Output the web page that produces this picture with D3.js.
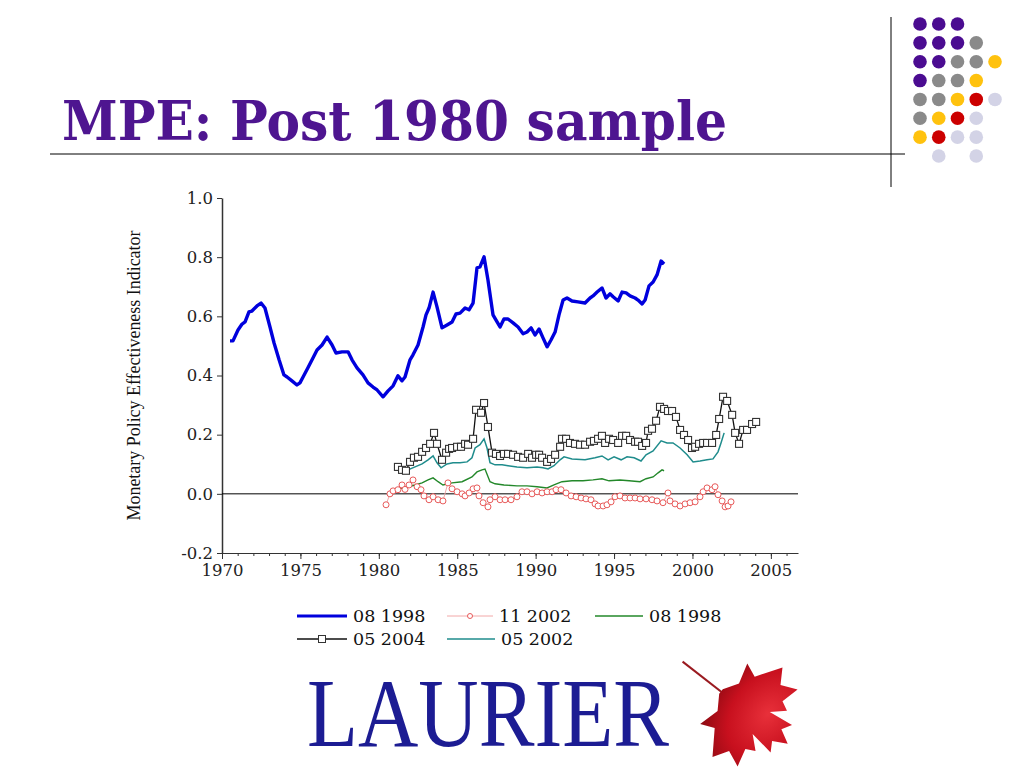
<!DOCTYPE html>
<html>
<head>
<meta charset="utf-8">
<script src="https://cdn.jsdelivr.net/npm/d3@7"></script>
<style>
  html, body { margin: 0; padding: 0; background: #ffffff; }
  svg { display: block; }
</style>
</head>
<body>
<svg id="chart" width="1024" height="768"></svg>
<script>
// ---------------- DATA ----------------
const titleText = "MPE: Post 1980 sample";
const yAxisTitle = "Monetary Policy Effectiveness Indicator";
const yTickValues = [-0.2, 0.0, 0.2, 0.4, 0.6, 0.8, 1.0];
const xTickValues = [1970, 1975, 1980, 1985, 1990, 1995, 2000, 2005];
const xDomain = [1970, 2006.73];
const yDomain = [-0.2, 1.0];

// series "08 1998" (blue, thick)
const blue081998 = [
  [1970.51,0.517],[1970.70,0.517],[1971.02,0.554],[1971.28,0.574],[1971.47,0.581],[1971.72,0.615],
  [1971.91,0.618],[1972.23,0.635],[1972.49,0.645],[1972.74,0.628],[1973.06,0.564],[1973.32,0.510],
  [1973.64,0.453],[1973.95,0.402],[1974.15,0.395],[1974.46,0.382],[1974.78,0.368],[1974.97,0.375],
  [1975.17,0.395],[1975.48,0.426],[1975.80,0.459],[1976.06,0.486],[1976.38,0.503],[1976.70,0.530],
  [1977.02,0.503],[1977.27,0.476],[1977.65,0.480],[1978.04,0.480],[1978.29,0.453],[1978.61,0.426],
  [1978.99,0.402],[1979.31,0.375],[1979.63,0.361],[1979.89,0.351],[1980.27,0.328],[1980.59,0.348],
  [1980.91,0.365],[1981.22,0.399],[1981.48,0.382],[1981.67,0.395],[1981.99,0.453],[1982.18,0.470],
  [1982.50,0.503],[1982.82,0.564],[1983.01,0.605],[1983.20,0.628],[1983.46,0.682],[1983.71,0.632],
  [1984.03,0.561],[1984.35,0.571],[1984.67,0.581],[1984.92,0.608],[1985.18,0.611],[1985.50,0.628],
  [1985.75,0.622],[1986.01,0.645],[1986.26,0.764],[1986.45,0.767],[1986.71,0.801],[1986.96,0.723],
  [1987.28,0.605],[1987.54,0.581],[1987.73,0.564],[1987.98,0.591],[1988.24,0.591],[1988.56,0.578],
  [1988.88,0.564],[1989.20,0.541],[1989.45,0.547],[1989.71,0.561],[1989.96,0.537],[1990.22,0.557],
  [1990.47,0.527],[1990.73,0.497],[1990.98,0.520],[1991.24,0.547],[1991.49,0.605],[1991.75,0.655],
  [1992.00,0.662],[1992.32,0.652],[1992.70,0.649],[1993.15,0.645],[1993.47,0.662],[1993.66,0.669],
  [1993.92,0.682],[1994.23,0.696],[1994.49,0.662],[1994.74,0.676],[1994.94,0.666],[1995.26,0.652],
  [1995.51,0.682],[1995.77,0.679],[1996.02,0.669],[1996.34,0.662],[1996.53,0.655],[1996.79,0.642],
  [1996.98,0.655],[1997.23,0.703],[1997.49,0.716],[1997.74,0.740],[1998.00,0.787],[1998.19,0.777]
];

// series "11 2002" (pink, circles)
const pink112002 = [
  [1980.46,-0.037],[1980.71,0.000],[1980.91,0.010],[1981.22,0.014],[1981.48,0.030],[1981.67,0.015],
  [1981.93,0.030],[1982.18,0.047],[1982.44,0.024],[1982.69,0.014],[1982.88,-0.007],[1983.20,-0.020],
  [1983.46,-0.010],[1983.78,-0.020],[1984.09,-0.024],[1984.41,0.037],[1984.67,0.017],[1984.99,0.007],
  [1985.31,0.000],[1985.50,-0.007],[1985.76,0.003],[1986.01,0.017],[1986.26,0.020],[1986.39,-0.007],
  [1986.65,-0.030],[1986.96,-0.044],[1987.09,-0.020],[1987.41,-0.010],[1987.73,-0.020],[1988.05,-0.020],
  [1988.43,-0.020],[1988.81,-0.010],[1989.13,0.007],[1989.45,0.007],[1989.77,0.000],[1990.09,0.007],
  [1990.41,0.003],[1990.73,0.007],[1991.05,0.007],[1991.30,0.014],[1991.62,0.014],[1991.94,0.003],
  [1992.26,-0.007],[1992.58,-0.010],[1992.90,-0.014],[1993.21,-0.017],[1993.53,-0.020],[1993.79,-0.034],
  [1993.98,-0.041],[1994.30,-0.041],[1994.55,-0.037],[1994.81,-0.027],[1995.06,-0.010],[1995.38,-0.007],
  [1995.70,-0.014],[1996.02,-0.014],[1996.34,-0.014],[1996.66,-0.017],[1997.04,-0.017],[1997.42,-0.020],
  [1997.74,-0.024],[1998.12,-0.030],[1998.44,0.003],[1998.57,-0.024],[1998.89,-0.034],[1999.21,-0.041],
  [1999.53,-0.034],[1999.85,-0.030],[2000.17,-0.027],[2000.48,-0.010],[2000.68,0.007],[2000.93,0.020],
  [2001.25,0.014],[2001.44,0.024],[2001.63,-0.003],[2001.89,-0.024],[2002.08,-0.044],[2002.27,-0.041],
  [2002.46,-0.027]
];

// series "08 1998" (green)
const green081998 = [
  [1981.22,0.014],[1981.48,0.020],[1981.86,0.024],[1982.31,0.030],[1982.76,0.037],[1983.14,0.047],
  [1983.46,0.054],[1983.78,0.041],[1984.09,0.030],[1984.67,0.037],[1985.31,0.041],[1985.94,0.057],
  [1986.26,0.074],[1986.58,0.081],[1986.77,0.084],[1987.09,0.041],[1987.41,0.034],[1987.98,0.030],
  [1988.81,0.027],[1989.45,0.027],[1990.09,0.024],[1990.73,0.020],[1991.17,0.030],[1991.68,0.041],
  [1992.32,0.044],[1993.02,0.044],[1993.66,0.047],[1994.23,0.051],[1994.68,0.044],[1995.38,0.047],
  [1995.96,0.044],[1996.66,0.041],[1997.04,0.051],[1997.49,0.057],[1997.81,0.071],[1998.06,0.081],
  [1998.19,0.078]
];

// series "05 2004" (black, squares)
const black052004 = [
  [1981.22,0.091],[1981.48,0.081],[1981.73,0.078],[1981.99,0.108],[1982.24,0.122],[1982.50,0.125],
  [1982.76,0.142],[1983.01,0.155],[1983.27,0.169],[1983.52,0.206],[1983.71,0.169],[1984.03,0.115],
  [1984.29,0.139],[1984.48,0.152],[1984.67,0.155],[1984.99,0.159],[1985.24,0.159],[1985.50,0.169],
  [1985.69,0.166],[1986.01,0.186],[1986.20,0.284],[1986.52,0.274],[1986.71,0.307],[1986.96,0.226],
  [1987.22,0.139],[1987.47,0.135],[1987.73,0.128],[1987.98,0.135],[1988.24,0.135],[1988.56,0.132],
  [1988.88,0.125],[1989.20,0.122],[1989.52,0.135],[1989.77,0.122],[1990.03,0.132],[1990.22,0.132],
  [1990.41,0.122],[1990.73,0.108],[1990.98,0.118],[1991.24,0.132],[1991.56,0.159],[1991.68,0.186],
  [1991.94,0.186],[1992.19,0.172],[1992.51,0.169],[1992.83,0.166],[1993.15,0.166],[1993.47,0.176],
  [1993.72,0.179],[1993.98,0.186],[1994.23,0.196],[1994.43,0.172],[1994.68,0.186],[1994.94,0.182],
  [1995.26,0.172],[1995.51,0.196],[1995.77,0.196],[1996.02,0.182],[1996.34,0.176],[1996.53,0.176],
  [1996.79,0.162],[1997.04,0.172],[1997.17,0.213],[1997.42,0.220],[1997.68,0.247],[1997.93,0.294],
  [1998.19,0.287],[1998.44,0.280],[1998.70,0.280],[1998.95,0.260],[1999.21,0.216],[1999.46,0.199],
  [1999.72,0.182],[1999.97,0.155],[2000.17,0.159],[2000.42,0.169],[2000.68,0.172],[2000.93,0.172],
  [2001.25,0.172],[2001.51,0.199],[2001.70,0.253],[2001.95,0.328],[2002.21,0.314],[2002.53,0.267],
  [2002.72,0.206],[2002.97,0.169],[2003.23,0.216],[2003.48,0.216],[2003.80,0.236],[2004.06,0.243]
];

// series "05 2002" (teal)
const teal052002 = [
  [1981.22,0.081],[1981.54,0.071],[1981.86,0.081],[1982.31,0.091],[1982.76,0.101],[1983.14,0.115],
  [1983.46,0.128],[1983.71,0.105],[1983.97,0.088],[1984.35,0.101],[1984.73,0.105],[1985.18,0.105],
  [1985.63,0.108],[1985.94,0.122],[1986.14,0.155],[1986.45,0.166],[1986.71,0.186],[1986.90,0.155],
  [1987.09,0.105],[1987.41,0.098],[1987.86,0.098],[1988.24,0.095],[1988.81,0.091],[1989.45,0.088],
  [1990.09,0.091],[1990.47,0.088],[1990.79,0.084],[1991.17,0.095],[1991.56,0.115],[1991.81,0.125],
  [1992.32,0.118],[1993.15,0.115],[1993.79,0.122],[1994.23,0.128],[1994.62,0.115],[1995.00,0.125],
  [1995.45,0.115],[1995.83,0.125],[1996.28,0.122],[1996.72,0.111],[1997.04,0.132],[1997.49,0.145],
  [1998.00,0.179],[1998.38,0.172],[1998.76,0.172],[1999.21,0.155],[1999.66,0.132],[2000.04,0.108],
  [2000.48,0.111],[2000.93,0.115],[2001.31,0.118],[2001.63,0.142],[2001.82,0.172],[2002.02,0.206]
];

const legendLabels = ["08 1998", "11 2002", "08 1998", "05 2004", "05 2002"];

// decorative dot grid colours (rows, top to bottom)
const dotRows = [
  ["P","P","P",null,null],
  ["P","P","P","G",null],
  ["P","P","G","G","Y"],
  ["P","G","G","Y",null],
  ["G","G","Y","R","L"],
  ["G","Y","R","L",null],
  ["Y","R","L","L",null],
  [null,"L",null,"L",null]
];
const dotColors = { P: "#4B0C91", G: "#8A8A8A", Y: "#FFC20E", R: "#CC0000", L: "#D3D3E6" };

// ---------------- DRAW ----------------
const svg = d3.select("#chart");
const serif = "'DejaVu Serif', 'Liberation Serif', serif";

// Title
svg.append("text")
  .attr("x", 62).attr("y", 140)
  .attr("font-family", serif)
  .attr("font-weight", "bold")
  .attr("font-size", 55)
  .attr("fill", "#4E1590")
  .attr("textLength", 665)
  .attr("lengthAdjust", "spacingAndGlyphs")
  .text(titleText);

// header rules
svg.append("line").attr("x1", 50).attr("x2", 905).attr("y1", 154).attr("y2", 154)
  .attr("stroke", "#000").attr("stroke-width", 1);
svg.append("line").attr("x1", 891).attr("x2", 891).attr("y1", 17).attr("y2", 187)
  .attr("stroke", "#000").attr("stroke-width", 1);

// Dot grid
const dotX = d3.scaleLinear().domain([0, 4]).range([920, 995]);
const dotY = d3.scaleLinear().domain([0, 7]).range([24, 156]);
dotRows.forEach((row, ri) => {
  row.forEach((c, ci) => {
    if (!c) return;
    svg.append("circle").attr("cx", dotX(ci)).attr("cy", dotY(ri)).attr("r", 6.8)
      .attr("fill", dotColors[c]);
  });
});

// Scales
const x = d3.scaleLinear().domain(xDomain).range([222, 798]);
const y = d3.scaleLinear().domain(yDomain).range([553, 198]);

// Axes
const fmtY = d => d3.format(".1f")(d).replace("\u2212", "-");
const yAxis = d3.axisLeft(y).tickValues(yTickValues).tickFormat(fmtY).tickSize(5).tickSizeOuter(0).tickPadding(4);
const gy = svg.append("g").attr("transform", "translate(222,0)").call(yAxis);
gy.select(".domain").attr("stroke", "#333").attr("stroke-width", 1.5);
gy.selectAll(".tick line").attr("stroke", "#333");
gy.selectAll("text").attr("font-family", serif).attr("font-size", 16.5).attr("fill", "#222");

const minorYears = d3.range(1970, 2007, 1);
const xMinor = d3.axisBottom(x).tickValues(minorYears).tickFormat("").tickSize(3).tickSizeOuter(0);
const gxm = svg.append("g").attr("transform", "translate(0,553)").call(xMinor);
gxm.select(".domain").remove();
gxm.selectAll(".tick line").attr("stroke", "#333");

const xAxis = d3.axisBottom(x).tickValues(xTickValues).tickFormat(d3.format("d")).tickSize(6).tickSizeOuter(0).tickPadding(5);
const gx = svg.append("g").attr("transform", "translate(0,553)").call(xAxis);
gx.select(".domain").attr("stroke", "#333").attr("stroke-width", 1.2);
gx.selectAll(".tick line").attr("stroke", "#333");
gx.selectAll("text").attr("font-family", serif).attr("font-size", 16.5).attr("fill", "#222");

// zero line
svg.append("line").attr("x1", x(xDomain[0])).attr("x2", x(xDomain[1]))
  .attr("y1", y(0)).attr("y2", y(0)).attr("stroke", "#000").attr("stroke-width", 1);

// Y axis title
svg.append("text")
  .attr("transform", `translate(140,${(198 + 553) / 2}) rotate(-90)`)
  .attr("text-anchor", "middle")
  .attr("font-family", "'Liberation Serif', serif")
  .attr("font-size", 18)
  .attr("fill", "#111")
  .attr("textLength", 290)
  .attr("lengthAdjust", "spacingAndGlyphs")
  .text(yAxisTitle);

// Lines
const line = d3.line().x(d => x(d[0])).y(d => y(d[1]));

svg.append("path").datum(pink112002).attr("d", line)
  .attr("fill", "none").attr("stroke", "#F2A8A8").attr("stroke-width", 1);
svg.append("path").datum(green081998).attr("d", line)
  .attr("fill", "none").attr("stroke", "#23882A").attr("stroke-width", 1.4);
svg.append("path").datum(teal052002).attr("d", line)
  .attr("fill", "none").attr("stroke", "#1F8C8C").attr("stroke-width", 1.5);
svg.append("path").datum(black052004).attr("d", line)
  .attr("fill", "none").attr("stroke", "#111").attr("stroke-width", 1.3);
svg.append("path").datum(blue081998).attr("d", line)
  .attr("fill", "none").attr("stroke", "#0000DD").attr("stroke-width", 3.4)
  .attr("stroke-linejoin", "round");

// markers
svg.append("g").selectAll("circle").data(pink112002).join("circle")
  .attr("cx", d => x(d[0])).attr("cy", d => y(d[1])).attr("r", 3)
  .attr("fill", "#fff").attr("stroke", "#E85A5A").attr("stroke-width", 1);
const sq = 7;
svg.append("g").selectAll("rect").data(black052004).join("rect")
  .attr("x", d => x(d[0]) - sq / 2).attr("y", d => y(d[1]) - sq / 2)
  .attr("width", sq).attr("height", sq)
  .attr("fill", "#fff").attr("stroke", "#333").attr("stroke-width", 1.1);

// Legend
const legendItems = [
  { label: legendLabels[0], x: 297, y: 616, w: 50, color: "#0000DD", sw: 3, marker: null },
  { label: legendLabels[1], x: 447, y: 616, w: 46, color: "#F2A8A8", sw: 1, marker: "circle" },
  { label: legendLabels[2], x: 595, y: 616, w: 48, color: "#23882A", sw: 1.4, marker: null },
  { label: legendLabels[3], x: 297, y: 639, w: 50, color: "#111", sw: 1.3, marker: "square" },
  { label: legendLabels[4], x: 447, y: 639, w: 48, color: "#1F8C8C", sw: 1.5, marker: null }
];
const lg = svg.append("g");
legendItems.forEach(it => {
  lg.append("line").attr("x1", it.x).attr("x2", it.x + it.w).attr("y1", it.y).attr("y2", it.y)
    .attr("stroke", it.color).attr("stroke-width", it.sw);
  if (it.marker === "circle") {
    lg.append("circle").attr("cx", it.x + it.w / 2).attr("cy", it.y).attr("r", 2.5)
      .attr("fill", "#fff").attr("stroke", "#E85A5A");
  } else if (it.marker === "square") {
    lg.append("rect").attr("x", it.x + it.w / 2 - 3.5).attr("y", it.y - 3.5)
      .attr("width", 7).attr("height", 7).attr("fill", "#fff").attr("stroke", "#333");
  }
  lg.append("text").attr("x", it.x + it.w + 6).attr("y", it.y + 6)
    .attr("font-family", serif).attr("font-size", 17.5).attr("fill", "#111")
    .text(it.label);
});

// Logo: LAURIER
svg.append("text")
  .attr("x", 307).attr("y", 746)
  .attr("font-family", "'Liberation Serif', 'Times New Roman', serif")
  .attr("font-size", 97)
  .attr("fill", "#1C1C93")
  .attr("textLength", 362)
  .attr("lengthAdjust", "spacingAndGlyphs")
  .text("LAURIER");

// Maple leaf
const defs = svg.append("defs");
const grad = defs.append("radialGradient").attr("id", "leafGrad").attr("cx", "40%").attr("cy", "40%").attr("r", "70%");
grad.append("stop").attr("offset", "0%").attr("stop-color", "#E8303A");
grad.append("stop").attr("offset", "60%").attr("stop-color", "#C8101E");
grad.append("stop").attr("offset", "100%").attr("stop-color", "#8E0A12");

const halfLeaf = [
  [0,-1],[0.13,-0.76],[0.30,-0.86],[0.24,-0.42],[0.44,-0.64],[0.52,-0.48],[0.84,-0.56],[0.72,-0.28],
  [0.98,-0.12],[0.56,0.16],[0.66,0.40],[0.30,0.30],[0.05,0.46]
];
const leafPts = halfLeaf.concat(halfLeaf.slice(1).reverse().map(p => [-p[0], p[1]]));
const leafG = svg.append("g").attr("transform", "translate(742,708) rotate(128) scale(58)");
leafG.append("line").attr("x1", 0).attr("y1", 0.3).attr("x2", 0).attr("y2", 1.3)
  .attr("stroke", "#9A1A20").attr("stroke-width", 0.035);
leafG.append("path").attr("d", d3.line()(leafPts) + "Z").attr("fill", "url(#leafGrad)");
</script>
</body>
</html>
